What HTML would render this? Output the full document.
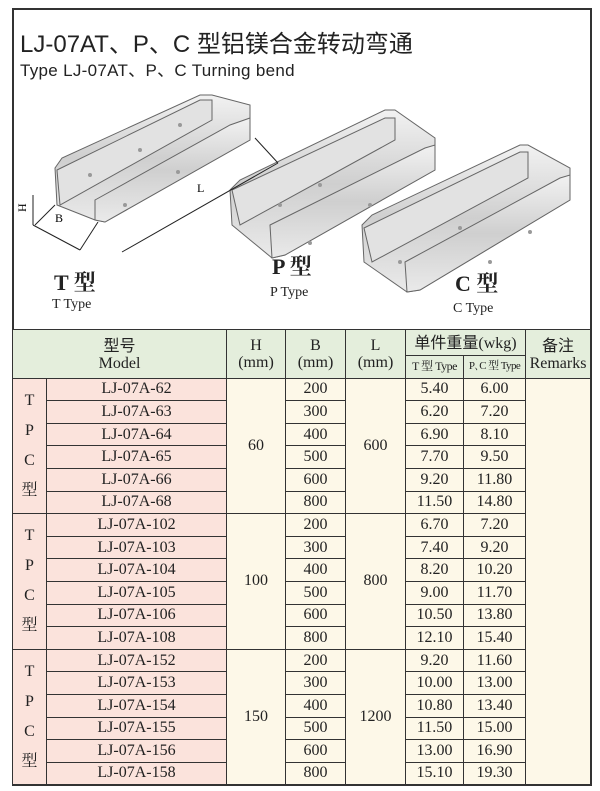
<!DOCTYPE html>
<html><head><meta charset="utf-8"><style>
html,body{margin:0;padding:0;background:#fff;width:600px;height:791px;overflow:hidden}
#box{position:absolute;left:12px;top:8px;width:576px;height:774px;border:2px solid #333;}
.t{position:absolute;font-family:"Liberation Sans","Noto Sans CJK SC",sans-serif;color:#222;white-space:nowrap}
table{position:absolute;left:12px;top:329px;border-collapse:collapse;table-layout:fixed;font-family:"Liberation Serif","Noto Serif CJK SC",serif;font-size:16px;color:#222}
td{border:1px solid #333;padding:0;text-align:center;height:21.6px;line-height:18px;background:#fdf8e8;white-space:nowrap;overflow:hidden}
.hd td{background:#e4eedc;line-height:17px}
td.pk{background:#fbe3dc}
td.tp{background:#fbe3dc;font-size:16px;line-height:30px}
</style></head><body>
<div id="box"></div>
<div class="t" style="left:20px;top:24px;font-size:24px;">LJ-07AT、P、C 型铝镁合金转动弯通</div>
<div class="t" style="left:20px;top:56px;font-size:17px;letter-spacing:0.3px">Type LJ-07AT、P、C Turning bend</div>
<svg style="position:absolute;left:0;top:0" width="600" height="325">
<defs><linearGradient id="g" x1="0" y1="0" x2="0" y2="1"><stop offset="0" stop-color="#f2f2f2"/><stop offset="0.5" stop-color="#cfcfcf"/><stop offset="1" stop-color="#eaeaea"/></linearGradient></defs>
<g stroke="#666" stroke-width="1" fill="url(#g)">
<!-- T tray -->
<polygon points="55,168 62,158 200,95 212,95 250,105 250,140 105,222 95,220 57,205"/>
<polygon points="95,200 230,125 250,118 250,140 105,222 95,220"/>
<polygon points="57,170 200,100 212,100 212,120 60,205" fill="#e2e2e2"/>
<!-- P tray -->
<polygon points="230,190 240,180 385,110 395,110 435,138 435,170 285,255 272,258 232,225"/>
<polygon points="270,225 425,148 435,145 435,170 285,255 272,258"/>
<polygon points="232,190 385,118 395,118 395,140 240,225" fill="#e2e2e2"/>
<!-- C tray -->
<polygon points="362,225 372,215 520,145 528,145 570,168 570,200 420,290 407,292 364,262"/>
<polygon points="405,262 560,178 570,175 570,200 420,290 407,292"/>
<polygon points="364,228 520,152 528,152 528,178 372,262" fill="#e2e2e2"/>
</g>
<g fill="#999">
<circle cx="90" cy="175" r="2"/><circle cx="140" cy="150" r="2"/><circle cx="180" cy="125" r="2"/><circle cx="125" cy="205" r="2"/><circle cx="178" cy="172" r="2"/>
<circle cx="280" cy="205" r="2"/><circle cx="320" cy="185" r="2"/><circle cx="310" cy="243" r="2"/><circle cx="370" cy="205" r="2"/>
<circle cx="400" cy="262" r="2"/><circle cx="460" cy="228" r="2"/><circle cx="490" cy="262" r="2"/><circle cx="530" cy="232" r="2"/>
</g>
<g stroke="#222" stroke-width="1" fill="none">
<line x1="33" y1="195" x2="33" y2="225"/><line x1="33" y1="225" x2="80" y2="250"/>
<line x1="35" y1="225" x2="55" y2="205"/><line x1="80" y1="250" x2="98" y2="222"/>
<line x1="122" y1="252" x2="278" y2="163"/><line x1="255" y1="138" x2="278" y2="163"/>
</g>
<text x="18" y="212" font-family="Liberation Serif" font-size="12" transform="rotate(-90 22 208)">H</text>
<text x="55" y="222" font-family="Liberation Serif" font-size="12">B</text>
<text x="197" y="192" font-family="Liberation Serif" font-size="12">L</text>
<g font-family="Liberation Serif,Noto Serif CJK SC,serif" fill="#222">
<text x="54" y="290" font-size="22" font-weight="bold">T 型</text><text x="52" y="308" font-size="14">T Type</text>
<text x="272" y="274" font-size="22" font-weight="bold">P 型</text><text x="270" y="296" font-size="14">P Type</text>
<text x="455" y="291" font-size="22" font-weight="bold">C 型</text><text x="453" y="312" font-size="14">C Type</text>
</g>
</svg>
<table>
<colgroup><col style="width:34px"><col style="width:180px"><col style="width:59px"><col style="width:60px"><col style="width:60px"><col style="width:58px"><col style="width:62px"><col style="width:65px"></colgroup>
<tr class="hd"><td colspan="2" rowspan="2"><span style="font-family:'Noto Sans CJK SC',sans-serif">型号</span><br>Model</td><td rowspan="2">H<br>(mm)</td><td rowspan="2">B<br>(mm)</td><td rowspan="2">L<br>(mm)</td><td colspan="2" style="height:25px"><span style="font-family:'Noto Sans CJK SC',sans-serif">单件重量</span>(wkg)</td><td rowspan="2"><span style="font-family:'Noto Sans CJK SC',sans-serif">备注</span><br>Remarks</td></tr>
<tr class="hd"><td style="font-size:12px;height:17px;line-height:17px;letter-spacing:-0.5px">T 型 Type</td><td style="font-size:11px;line-height:17px;letter-spacing:-0.6px">P､C 型 Type</td></tr>
<tr><td class="tp" rowspan="6">T<br>P<br>C<br>型</td><td class="pk">LJ-07A-62</td><td rowspan="6">60</td><td>200</td><td rowspan="6">600</td><td>5.40</td><td>6.00</td><td rowspan="18"></td></tr>
<tr><td class="pk">LJ-07A-63</td><td>300</td><td>6.20</td><td>7.20</td></tr>
<tr><td class="pk">LJ-07A-64</td><td>400</td><td>6.90</td><td>8.10</td></tr>
<tr><td class="pk">LJ-07A-65</td><td>500</td><td>7.70</td><td>9.50</td></tr>
<tr><td class="pk">LJ-07A-66</td><td>600</td><td>9.20</td><td>11.80</td></tr>
<tr><td class="pk">LJ-07A-68</td><td>800</td><td>11.50</td><td>14.80</td></tr>
<tr><td class="tp" rowspan="6">T<br>P<br>C<br>型</td><td class="pk">LJ-07A-102</td><td rowspan="6">100</td><td>200</td><td rowspan="6">800</td><td>6.70</td><td>7.20</td></tr>
<tr><td class="pk">LJ-07A-103</td><td>300</td><td>7.40</td><td>9.20</td></tr>
<tr><td class="pk">LJ-07A-104</td><td>400</td><td>8.20</td><td>10.20</td></tr>
<tr><td class="pk">LJ-07A-105</td><td>500</td><td>9.00</td><td>11.70</td></tr>
<tr><td class="pk">LJ-07A-106</td><td>600</td><td>10.50</td><td>13.80</td></tr>
<tr><td class="pk">LJ-07A-108</td><td>800</td><td>12.10</td><td>15.40</td></tr>
<tr><td class="tp" rowspan="6">T<br>P<br>C<br>型</td><td class="pk">LJ-07A-152</td><td rowspan="6">150</td><td>200</td><td rowspan="6">1200</td><td>9.20</td><td>11.60</td></tr>
<tr><td class="pk">LJ-07A-153</td><td>300</td><td>10.00</td><td>13.00</td></tr>
<tr><td class="pk">LJ-07A-154</td><td>400</td><td>10.80</td><td>13.40</td></tr>
<tr><td class="pk">LJ-07A-155</td><td>500</td><td>11.50</td><td>15.00</td></tr>
<tr><td class="pk">LJ-07A-156</td><td>600</td><td>13.00</td><td>16.90</td></tr>
<tr><td class="pk">LJ-07A-158</td><td>800</td><td>15.10</td><td>19.30</td></tr>
</table>
</body></html>
